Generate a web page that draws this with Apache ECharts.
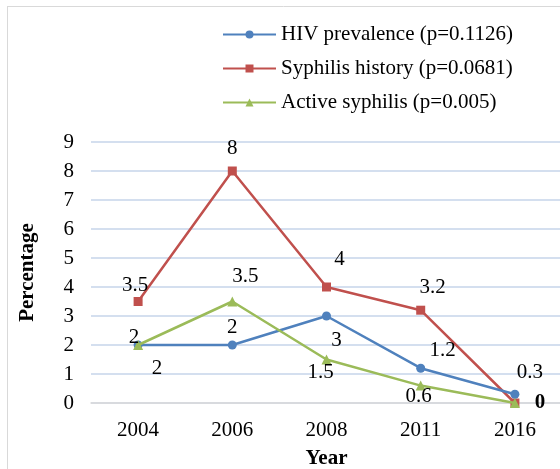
<!DOCTYPE html>
<html>
<head>
<meta charset="utf-8">
<script src="https://cdn.jsdelivr.net/npm/echarts@6/dist/echarts.min.js"></script>
<style>
  html, body { margin: 0; padding: 0; background: #fff; }
  #chart { width: 560px; height: 469px; }
</style>
</head>
<body>
<div id="chart"></div>
<script>
// data
const years = ['2004', '2006', '2008', '2011', '2016'];
const hivValues = [2, 2, 3, 1.2, 0.3];
const syphilisHistory = [3.5, 8, 4, 3.2, 0];
const activeSyphilis = [2, 3.5, 1.5, 0.6, 0];
const seriesNames = ['HIV prevalence (p=0.1126)', 'Syphilis history (p=0.0681)', 'Active syphilis (p=0.005)'];

// where each value label sits relative to its point
const hivOffsets = [[19, 23], [0, -18], [10, 24], [22, -18], [15, -22]];
const syphOffsets = [[-3, -16], [0, -23], [13, -28], [12, -23], [25, 0]];
const activeOffsets = [[-4, -8], [13, -25], [-6, 13], [-2, 11], null];

const serif = '"Liberation Serif", "DejaVu Serif", serif';
const fs = 21;

function withLabels(values, offsets, bold) {
    return values.map((v, i) => {
        const off = offsets[i];
        if (!off) return {value: v, label: {show: false}};
        return {
            value: v,
            label: {
                show: true,
                position: 'inside',
                offset: off,
                color: '#000',
                fontFamily: serif,
                fontSize: fs,
                fontWeight: (bold && i === values.length - 1) ? 'bold' : 'normal'
            }
        };
    });
}

const chart = echarts.init(document.getElementById('chart'));

const option = {
    animation: false,
    graphic: [
        {type: 'line', shape: {x1: 7, y1: 6.5, x2: 560, y2: 6.5}, style: {stroke: '#d9d9d9', lineWidth: 1}},
        {type: 'line', shape: {x1: 7.5, y1: 6, x2: 7.5, y2: 469}, style: {stroke: '#d9d9d9', lineWidth: 1}}
    ],
    legend: {
        orient: 'vertical',
        left: 217,
        top: 19,
        itemWidth: 53,
        itemHeight: 10,
        itemGap: 13,
        data: seriesNames,
        textStyle: {fontFamily: serif, fontSize: fs, color: '#000'}
    },
    grid: {left: 91, right: -2, top: 142, bottom: 66, outerBoundsMode: 'none'},
    xAxis: {
        type: 'category',
        data: years,
        name: 'Year',
        nameLocation: 'middle',
        nameGap: 45,
        nameTextStyle: {fontFamily: serif, fontSize: fs, fontWeight: 'bold', color: '#000'},
        axisLine: {lineStyle: {color: '#d9d9d9', width: 1.5}},
        axisTick: {show: false},
        axisLabel: {fontFamily: serif, fontSize: fs, color: '#000', margin: 17}
    },
    yAxis: {
        type: 'value',
        min: 0,
        max: 9,
        interval: 1,
        name: 'Percentage',
        nameLocation: 'middle',
        nameGap: 53,
        nameTextStyle: {fontFamily: serif, fontSize: fs, fontWeight: 'bold', color: '#000'},
        axisLine: {show: false},
        axisTick: {show: false},
        axisLabel: {fontFamily: serif, fontSize: fs, color: '#000', margin: 17},
        splitLine: {lineStyle: {color: '#c6d5ea', width: 1.5}}
    },
    series: [
        {
            name: seriesNames[0],
            type: 'line',
            data: withLabels(hivValues, hivOffsets),
            symbol: 'circle',
            symbolSize: 9,
            lineStyle: {color: '#4f81bd', width: 2.5},
            itemStyle: {color: '#4f81bd'},
            z: 3
        },
        {
            name: seriesNames[1],
            type: 'line',
            data: withLabels(syphilisHistory, syphOffsets, true),
            symbol: 'rect',
            symbolSize: 9,
            lineStyle: {color: '#c0504d', width: 2.5},
            itemStyle: {color: '#c0504d'},
            z: 2
        },
        {
            name: seriesNames[2],
            type: 'line',
            data: withLabels(activeSyphilis, activeOffsets),
            symbol: 'triangle',
            symbolSize: 10,
            lineStyle: {color: '#9bbb59', width: 2.5},
            itemStyle: {color: '#9bbb59'},
            z: 4
        }
    ]
};

chart.setOption(option);
</script>
</body>
</html>
